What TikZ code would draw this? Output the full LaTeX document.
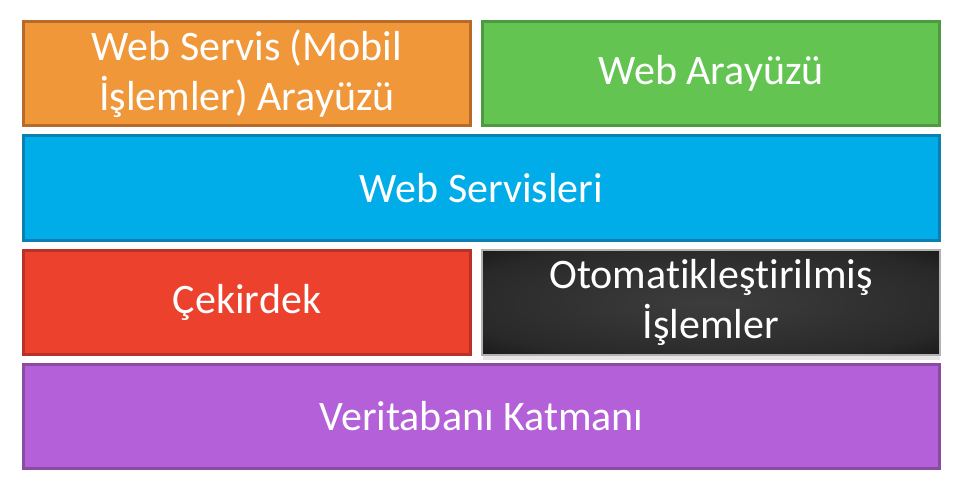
\documentclass[tikz,border=0pt]{standalone}
\usepackage{fontspec}
\setmainfont{Carlito}[Ligatures=NoCommon]
\usepackage{tikz}

\definecolor{orangefill}{HTML}{F0973A}
\definecolor{orangeline}{HTML}{B86A2A}
\definecolor{greenfill}{HTML}{64C452}
\definecolor{greenline}{HTML}{4E9A41}
\definecolor{bluefill}{HTML}{00ADE8}
\definecolor{blueline}{HTML}{0B7FAF}
\definecolor{redfill}{HTML}{EC412C}
\definecolor{redline}{HTML}{B8322A}
\definecolor{purplefill}{HTML}{B360D9}
\definecolor{purpleline}{HTML}{8A4CA0}

\pgfdeclareradialshading{darkcore}{\pgfpoint{0bp}{0bp}}{color(0bp)=(black!76); color(28bp)=(black!84); color(50bp)=(black); color(72bp)=(black)}

\tikzset{
    layer/.style={draw, line width=3pt, text=white, align=center,
        font=\fontsize{42}{50}\selectfont, minimum height=104pt, inner sep=0pt},
    half/.style={layer, minimum width=447pt},
    full/.style={layer, minimum width=916pt}
}

\begin{document}
\begin{tikzpicture}[x=1pt, y=-1pt]
            \useasboundingbox (0, 0) rectangle (963, 497);
            \node[half, fill=orangefill, draw=orangeline] (mobil) at (247, 73.5) {Web Servis (Mobil\\İşlemler) Arayüzü};
            \node[layer, fill=greenfill, draw=greenline, minimum width=457pt] (arayuz) at (711, 73.5) {Web Arayüzü};
            \node[full, fill=bluefill, draw=blueline] (servis) at (481.5, 188) {Web Servisleri};
            \node[half, fill=redfill, draw=redline] (cekirdek) at (247, 302) {Çekirdek};
            \fill[black!10] (483, 354) rectangle (940, 360);
            \node[layer, draw=black!30, line width=2pt, shading=darkcore,
                minimum width=458pt, minimum height=105pt] (otomatik) at (711, 302) {Otomatikleştirilmiş\\İşlemler};
            \node[full, fill=purplefill, draw=purpleline] (veritabani) at (481.5, 416.5) {Veritabanı Katmanı};
        \end{tikzpicture}
\end{document}
